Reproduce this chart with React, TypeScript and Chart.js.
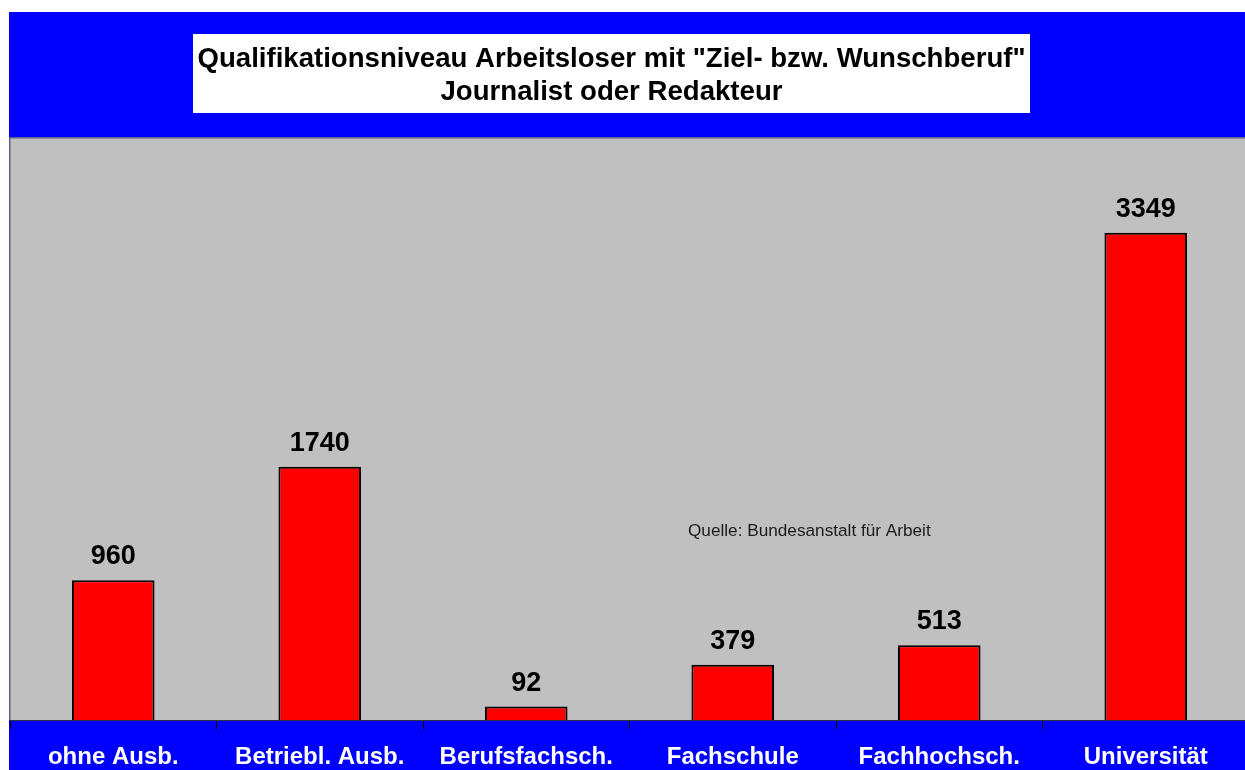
import React, { useEffect, useRef } from "react";
import { Chart, registerables } from "chart.js";

Chart.register(...registerables);

const categories = ["ohne Ausb.", "Betriebl. Ausb.", "Berufsfachsch.", "Fachschule", "Fachhochsch.", "Universität"];
const values = [960, 1740, 92, 379, 513, 3349];
const titleLines = ['Qualifikationsniveau Arbeitsloser mit "Ziel- bzw. Wunschberuf"', "Journalist oder Redakteur"];
const sourceNote = "Quelle: Bundesanstalt für Arbeit";

const FONT = '"Liberation Sans", Arial, sans-serif';

const decorPlugin = {
  id: "decor",
  beforeDraw(chart: any) {
    const { ctx, chartArea, width, height } = chart;
    ctx.save();
    // blue background
    ctx.fillStyle = "#0000ff";
    ctx.fillRect(9, 12, width - 9, height - 12);
    // gray plot area
    ctx.fillStyle = "#c0c0c0";
    ctx.fillRect(chartArea.left, chartArea.top, chartArea.right - chartArea.left, chartArea.bottom - chartArea.top);
    ctx.strokeStyle = "#808080";
    ctx.lineWidth = 1.5;
    ctx.beginPath();
    ctx.moveTo(chartArea.left, chartArea.bottom);
    ctx.lineTo(chartArea.left, chartArea.top);
    ctx.lineTo(chartArea.right, chartArea.top);
    ctx.stroke();
    // title box
    ctx.fillStyle = "#ffffff";
    ctx.fillRect(193, 34, 837, 79);
    ctx.fillStyle = "#000000";
    ctx.font = `bold 27.6px ${FONT}`;
    ctx.textAlign = "center";
    ctx.textBaseline = "alphabetic";
    ctx.fillText(titleLines[0], 611.5, 67);
    ctx.fillText(titleLines[1], 611.5, 100);
    ctx.restore();
  },
  afterDatasetsDraw(chart: any) {
    const { ctx, chartArea } = chart;
    const meta = chart.getDatasetMeta(0);
    ctx.save();
    ctx.fillStyle = "#000000";
    ctx.font = `bold 27px ${FONT}`;
    ctx.textAlign = "center";
    ctx.textBaseline = "alphabetic";
    meta.data.forEach((bar: any, i: number) => {
      ctx.fillText(String(values[i]), bar.x, bar.y - 16);
    });
    ctx.font = `17.2px ${FONT}`;
    ctx.fillStyle = "#1a1a1a";
    ctx.textAlign = "left";
    ctx.textBaseline = "middle";
    ctx.fillText(sourceNote, chartArea.left + 678, 531.5);
    ctx.restore();
  },
};

export default function App() {
  const ref = useRef<HTMLCanvasElement>(null);
  useEffect(() => {
    if (!ref.current) return;
    const chart = new Chart(ref.current, {
      type: "bar",
      data: {
        labels: categories,
        datasets: [
          {
            data: values,
            backgroundColor: "#ff0000",
            borderColor: "#000000",
            borderWidth: 2,
            barPercentage: 0.4,
            categoryPercentage: 1,
          },
        ],
      },
      options: {
        responsive: false,
        animation: false,
        devicePixelRatio: 1,
        layout: { padding: { left: 10, right: 1, top: 138, bottom: 0 } },
        plugins: { legend: { display: false }, tooltip: { enabled: false }, title: { display: false } },
        scales: {
          x: {
            offset: true,
            grid: { display: true, offset: true, drawOnChartArea: false, color: "#000000", tickLength: 9, tickColor: "#000000", lineWidth: 1 },
            border: { display: true, color: "#333333", width: 1 },
            ticks: { color: "#ffffff", font: { family: FONT, size: 24, weight: "bold" }, padding: 13.5, maxRotation: 0, autoSkip: false },
            afterFit: (scale: any) => {
              scale.height = 50;
            },
          },
          y: { display: false, min: 0, max: 4000 },
        },
      },
      plugins: [decorPlugin],
    } as any);
    return () => chart.destroy();
  }, []);
  return (
    <div style={{ position: "fixed", left: 0, top: 0, width: 1250, height: 770 }}>
      <canvas ref={ref} width={1250} height={770} style={{ display: "block" }} />
    </div>
  );
}
